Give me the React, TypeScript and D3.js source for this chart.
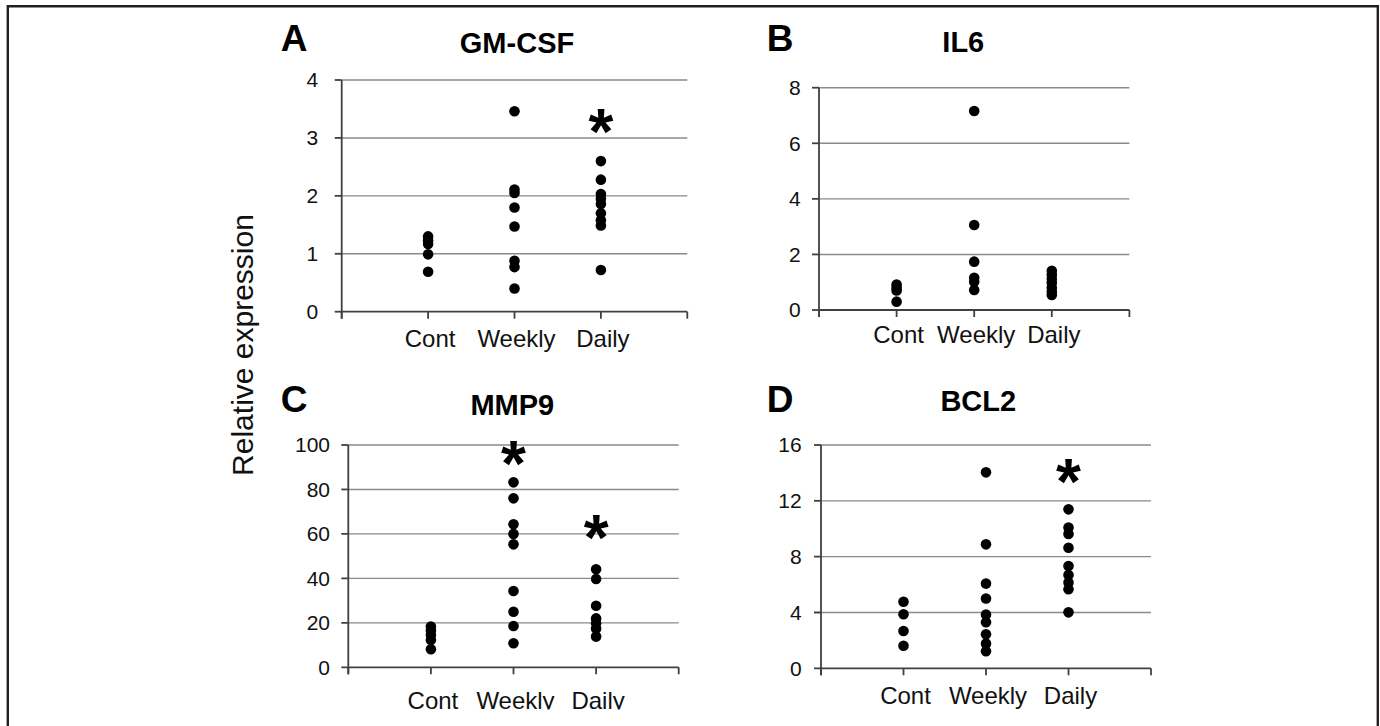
import React from "react";
import * as d3 from "d3";

const categories = ["Cont", "Weekly", "Daily"];

const gmcsfCont = [1.3, 1.23, 1.17, 0.99, 0.69];
const gmcsfWeekly = [3.46, 2.11, 2.05, 1.8, 1.47, 0.88, 0.77, 0.4];
const gmcsfDaily = [2.6, 2.28, 2.03, 1.95, 1.86, 1.7, 1.58, 1.49, 0.72];

const il6Cont = [0.92, 0.8, 0.7, 0.3];
const il6Weekly = [7.16, 3.06, 1.74, 1.16, 1.02, 0.72];
const il6Daily = [1.41, 1.27, 1.12, 0.98, 0.8, 0.66, 0.54];

const mmp9Cont = [18.3, 16.5, 14.5, 12.3, 8.1];
const mmp9Weekly = [83.2, 76, 64.3, 60, 55.3, 34.3, 25, 18.6, 10.8];
const mmp9Daily = [44.1, 39.7, 27.7, 22, 19.8, 17.5, 13.8];

const bcl2Cont = [4.77, 3.87, 2.67, 1.62];
const bcl2Weekly = [14.04, 8.88, 6.07, 5.0, 3.85, 3.3, 2.44, 1.77, 1.23];
const bcl2Daily = [11.39, 10.08, 9.62, 8.64, 7.33, 6.69, 6.14, 5.66, 4.01];

const gmcsfTicks = [0, 1, 2, 3, 4];
const il6Ticks = [0, 2, 4, 6, 8];
const mmp9Ticks = [0, 20, 40, 60, 80, 100];
const bcl2Ticks = [0, 4, 8, 12, 16];

// significance asterisks: [category index, value]
const gmcsfStars = [[2, 3.28]];
const il6Stars: number[][] = [];
const mmp9Stars = [[1, 96], [2, 62.7]];
const bcl2Stars = [[2, 14.05]];

const panels = [
  {
    letter: "A", title: "GM-CSF", series: [gmcsfCont, gmcsfWeekly, gmcsfDaily], ticks: gmcsfTicks, stars: gmcsfStars,
    left: 341.7, right: 687.3, top: 80, bottom: 311.7,
    titleX: 517, titleY: 53, letterX: 280.7, letterY: 50.7, tickRight: 318.3, labelY: 347.3,
  },
  {
    letter: "B", title: "IL6", series: [il6Cont, il6Weekly, il6Daily], ticks: il6Ticks, stars: il6Stars,
    left: 819, right: 1129.4, top: 87.7, bottom: 310,
    titleX: 963.3, titleY: 51.7, letterX: 766.7, letterY: 50.7, tickRight: 800.7, labelY: 343.3,
  },
  {
    letter: "C", title: "MMP9", series: [mmp9Cont, mmp9Weekly, mmp9Daily], ticks: mmp9Ticks, stars: mmp9Stars,
    left: 348.3, right: 678.7, top: 445, bottom: 667.3,
    titleX: 512.3, titleY: 415, letterX: 280.7, letterY: 411.7, tickRight: 330, labelY: 708.5,
  },
  {
    letter: "D", title: "BCL2", series: [bcl2Cont, bcl2Weekly, bcl2Daily], ticks: bcl2Ticks, stars: bcl2Stars,
    left: 821, right: 1151, top: 445, bottom: 668.3,
    titleX: 978.3, titleY: 410.7, letterX: 766.7, letterY: 411.7, tickRight: 801.7, labelY: 704,
  },
];

const FONT = "'Liberation Sans', Arial, sans-serif";

function Panel({ p }: { p: any }) {
  const x = d3.scaleLinear().domain([0, categories.length + 1]).range([p.left, p.right]);
  const ymax = p.ticks[p.ticks.length - 1];
  const y = d3.scaleLinear().domain([0, ymax]).range([p.bottom, p.top]);
  const xTicks = d3.range(0, categories.length + 2);
  return (
    <g>
      <text x={p.letterX} y={p.letterY} fontFamily={FONT} fontWeight="bold" fontSize={37} fill="#000">{p.letter}</text>
      <text x={p.titleX} y={p.titleY} fontFamily={FONT} fontWeight="bold" fontSize={29} textAnchor="middle" fill="#000">{p.title}</text>
      {p.ticks.filter((t: number) => t > 0).map((t: number) => (
        <line key={"g" + t} x1={p.left} x2={p.right} y1={y(t)} y2={y(t)} stroke="#8a8a8a" strokeWidth={1.4} />
      ))}
      {p.ticks.map((t: number) => (
        <g key={"t" + t}>
          <line x1={p.left - 7} x2={p.left} y1={y(t)} y2={y(t)} stroke="#404040" strokeWidth={1.8} />
          <text x={p.tickRight} y={y(t)} dy="0.35em" textAnchor="end" fontFamily={FONT} fontSize={21} fill="#111">{t}</text>
        </g>
      ))}
      <line x1={p.left} x2={p.left} y1={p.top} y2={p.bottom + 7} stroke="#404040" strokeWidth={1.8} />
      <line x1={p.left} x2={p.right} y1={p.bottom} y2={p.bottom} stroke="#404040" strokeWidth={1.8} />
      {xTicks.map((t: number) => (
        <line key={"xt" + t} x1={x(t)} x2={x(t)} y1={p.bottom} y2={p.bottom + 7} stroke="#404040" strokeWidth={1.8} />
      ))}
      {categories.map((c, i) => (
        <text key={c} x={x(i + 1) + 2} y={p.labelY} textAnchor="middle" fontFamily={FONT} fontSize={24} fill="#111">{c}</text>
      ))}
      {p.series.map((vals: number[], i: number) =>
        vals.map((v, j) => <circle key={i + "-" + j} cx={x(i + 1)} cy={y(v)} r={5.3} fill="#000" />)
      )}
      {p.stars.map((s: number[], k: number) => (
        <text key={"s" + k} x={x(s[0] + 1)} y={y(s[1]) + 32} textAnchor="middle" fontFamily={FONT} fontWeight="bold" fontSize={64} fill="#000">*</text>
      ))}
    </g>
  );
}

export default function App() {
  return (
    <svg width={1380} height={726} style={{ position: "absolute", left: 0, top: 0, background: "#fff" }}>
      <defs>
        <clipPath id="cut">
          <rect x={0} y={0} width={1380} height={709.5} />
        </clipPath>
      </defs>
      <rect x={0} y={0} width={1380} height={726} fill="#fff" />
      <g clipPath="url(#cut)">
        {panels.map((p) => <Panel key={p.letter} p={p} />)}
        <text transform="translate(253,345) rotate(-90)" textAnchor="middle" fontFamily={FONT} fontSize={30} fill="#111">Relative expression</text>
      </g>
      <path d="M7.8,726 V6.2 H1377.8 V726" fill="none" stroke="#231f20" strokeWidth={2.4} />
    </svg>
  );
}
